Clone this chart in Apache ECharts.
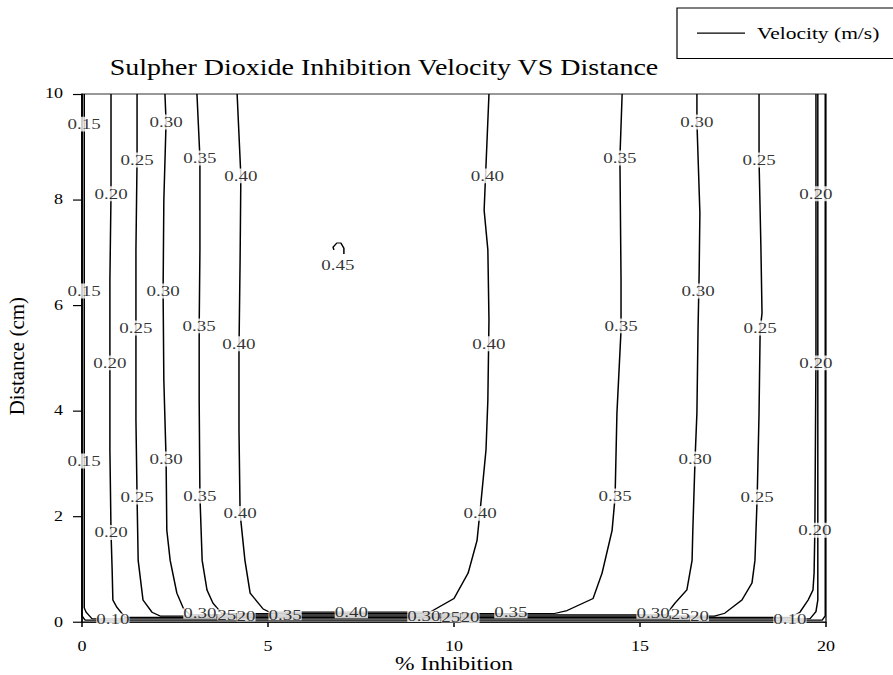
<!DOCTYPE html>
<html>
<head>
<meta charset="utf-8">
<script src="https://cdn.jsdelivr.net/npm/echarts@6/dist/echarts.min.js"></script>
<style>
  html, body { margin: 0; padding: 0; overflow: hidden; background: #fff; }
  #frame { width: 893px; height: 675px; overflow: hidden; position: relative; }
  #chart { width: 893px; transform-origin: 0 0; }
</style>
</head>
<body>
<div id="frame"><div id="chart"></div></div>
<script>
// Contour lines of velocity (m/s) over % inhibition (x) and distance in cm (y).
// Each path: [inhibition, distance] points along one contour level.
const levels = ['0.10', '0.15', '0.20', '0.25', '0.30', '0.35', '0.40', '0.45'];

const contour010 = [[0.0,10],[0.0,0.12],[0.08,0.04],[19.9,0.04],[19.98,0.12],[19.98,10]];
const contour015 = [[0.06,10],[0.06,6],[0.06,0.27],[0.11,0.19],[0.27,0.065],[19.57,0.065],[19.73,0.2],[19.78,0.42],[19.78,10]];
const contour020 = [[0.78,10],[0.78,8.11],[0.75,6.48],[0.75,4.91],[0.75,3.26],[0.78,1.70],[0.81,1.0],[0.83,0.42],[0.94,0.28],[1.16,0.09],
                    [19.03,0.09],[19.30,0.19],[19.52,0.42],[19.65,0.61],[19.68,0.93],[19.70,1.74],[19.73,4.96],[19.73,8.13],[19.73,10]];
const contour025 = [[1.48,10],[1.48,8.75],[1.45,7.05],[1.45,5.57],[1.45,3.83],[1.48,2.37],[1.51,1.17],[1.64,0.42],[1.88,0.19],[2.10,0.115],
                    [17.0,0.115],[17.28,0.17],[17.74,0.42],[18.01,0.74],[18.09,1.17],[18.15,2.37],[18.20,3.96],[18.23,5.53],[18.28,5.85],[18.25,7.10],[18.20,8.75],[18.20,10]];
const contour030 = [[2.23,10],[2.26,9.47],[2.20,7.99],[2.18,6.27],[2.20,4.58],[2.26,3.09],[2.28,1.74],[2.37,1.17],[2.55,0.55],[2.72,0.27],[2.90,0.14],
                    [15.7,0.14],[15.94,0.36],[16.26,0.61],[16.40,1.17],[16.42,1.74],[16.48,3.09],[16.53,3.96],[16.56,5.53],[16.59,6.61],[16.61,7.75],[16.53,9.47],[16.53,10]];
const contour035 = [[3.09,10],[3.17,8.79],[3.17,7.05],[3.15,5.61],[3.15,4.20],[3.17,2.39],[3.23,1.17],[3.36,0.61],[3.52,0.36],[3.76,0.165],
                    [12.7,0.165],[13.04,0.22],[13.74,0.45],[13.98,0.93],[14.25,1.74],[14.33,2.37],[14.38,3.96],[14.49,5.53],[14.49,6.48],[14.46,8.79],[14.52,10]];
const contour040 = [[4.17,10],[4.27,8.45],[4.25,6.86],[4.22,5.15],[4.22,3.64],[4.25,2.06],[4.38,1.17],[4.52,0.55],[4.87,0.25],[5.05,0.19],
                    [9.35,0.19],[9.68,0.32],[10.0,0.45],[10.38,0.93],[10.62,1.55],[10.73,2.31],[10.86,3.26],[10.91,4.2],[10.94,5.72],[10.91,7.05],[10.81,7.80],[10.94,10]];
const contour045 = [[6.77,7.05],[6.75,7.10],[6.85,7.18],[6.96,7.18],[7.04,7.08],[7.04,6.97]];

const contourPaths = [contour010, contour015, contour020, contour025, contour030, contour035, contour040, contour045];

// Level labels placed along the contours: [inhibition, distance, text]
const lineLabels = [
  [0.06,9.43,'0.15'],[0.06,6.27,'0.15'],[0.06,3.05,'0.15'],
  [0.78,8.11,'0.20'],[0.75,4.91,'0.20'],[0.78,1.70,'0.20'],
  [1.48,8.75,'0.25'],[1.45,5.57,'0.25'],[1.48,2.37,'0.25'],
  [2.26,9.47,'0.30'],[2.18,6.27,'0.30'],[2.26,3.09,'0.30'],
  [3.17,8.79,'0.35'],[3.15,5.61,'0.35'],[3.17,2.39,'0.35'],
  [4.27,8.45,'0.40'],[4.22,5.27,'0.40'],[4.25,2.06,'0.40'],
  [10.90,8.45,'0.40'],[10.94,5.27,'0.40'],[10.70,2.06,'0.40'],
  [14.46,8.79,'0.35'],[14.49,5.61,'0.35'],[14.33,2.39,'0.35'],
  [16.53,9.47,'0.30'],[16.56,6.27,'0.30'],[16.48,3.09,'0.30'],
  [18.20,8.75,'0.25'],[18.23,5.57,'0.25'],[18.15,2.37,'0.25'],
  [19.73,8.11,'0.20'],[19.73,4.91,'0.20'],[19.70,1.74,'0.20'],
  [6.88,6.76,'0.45']
];
// Labels along the dense band near distance 0; crowded levels show in short form
const bandLabels = [
  [0.83,0.06,'0.10'],[19.03,0.06,'0.10'],
  [3.17,0.17,'0.30'],[3.89,0.14,'25'],[4.41,0.12,'20'],
  [9.19,0.11,'0.30'],[9.91,0.10,'25'],[10.43,0.09,'20'],
  [15.35,0.17,'0.30'],[16.08,0.15,'25'],[16.60,0.12,'20'],
  [5.46,0.14,'0.35'],[11.53,0.18,'0.35'],
  [7.24,0.18,'0.40']
];
const bandLabelsBelow = [[6.80,-0.04,'0.15'],[12.89,-0.01,'0.15']];

const xTicks = { min: 0, max: 20, step: 5 };
const yTicks = { min: 0, max: 10, step: 2 };

// The drawing is laid out taller and squeezed vertically to the page height.
const SY = 1.27;
const PAGE_W = 893, PAGE_H = 675;
const CH = Math.round(PAGE_H * SY);
const chartDom = document.getElementById('chart');
chartDom.style.height = CH + 'px';
chartDom.style.transform = 'scaleY(' + (PAGE_H / CH) + ')';

const FONT = 'Liberation Serif, serif';
const chart = echarts.init(chartDom, null, { renderer: 'svg', width: PAGE_W, height: CH });

const lineSeries = contourPaths.map((path) => ({
  name: 'Velocity (m/s)',
  type: 'line',
  data: path,
  symbol: 'none',
  showSymbol: false,
  lineStyle: { color: '#000', width: 1.5 },
  itemStyle: { color: '#000' },
  z: 2,
  silent: true,
  animation: false
}));

function labelSeries(data, z, extra) {
  return {
    type: 'scatter',
    data: data,
    symbolSize: 0,
    z: z,
    silent: true,
    animation: false,
    label: Object.assign({
      show: true,
      position: 'inside',
      formatter: p => p.data[2],
      fontFamily: FONT,
      fontSize: 19,
      color: '#000',
      backgroundColor: '#fff',
      padding: [0, 1]
    }, extra || {}),
    labelLayout: { hideOverlap: false }
  };
}

chart.setOption({
  animation: false,
  backgroundColor: '#fff',
  textStyle: { fontFamily: FONT, color: '#000' },
  title: {
    text: 'Sulpher Dioxide Inhibition Velocity VS Distance',
    left: 379,
    textAlign: 'center',
    top: 67,
    textStyle: { fontFamily: FONT, fontSize: 28, fontWeight: 'normal', color: '#000' }
  },
  legend: {
    data: ['Velocity (m/s)'],
    left: 677,
    top: 8 * SY,
    orient: 'horizontal',
    icon: 'rect',
    itemWidth: 48,
    itemHeight: 1.5,
    padding: [20, 40, 20, 20],
    borderColor: '#000',
    borderWidth: 1.2,
    textStyle: { fontFamily: FONT, fontSize: 21.5, color: '#000', padding: [0, 0, 0, 7], lineHeight: 24 }
  },
  grid: {
    left: 82,
    right: PAGE_W - 826,
    top: 94 * SY,
    bottom: CH - 622 * SY,
    show: true,
    borderColor: '#333',
    borderWidth: 1.5,
    containLabel: false,
    outerBoundsMode: 'none'
  },
  graphic: [{
    type: 'text',
    x: 17,
    y: 356 * SY,
    rotation: Math.PI / 2,
    scaleX: SY,
    silent: true,
    style: {
      text: 'Distance (cm)',
      font: '21px Liberation Serif, serif',
      fill: '#000',
      align: 'center',
      verticalAlign: 'middle'
    }
  }, {
    type: 'text',
    x: 454,
    y: 664 * SY,
    silent: true,
    style: {
      text: '% Inhibition',
      font: '23.5px Liberation Serif, serif',
      fill: '#000',
      align: 'center',
      verticalAlign: 'middle'
    }
  }],
  xAxis: {
    type: 'value',
    min: xTicks.min, max: xTicks.max, interval: xTicks.step,
    axisLine: { show: true, onZero: false, lineStyle: { color: '#000', width: 1.5 } },
    axisTick: { show: true, length: 6, lineStyle: { color: '#000', width: 1.5 } },
    axisLabel: { margin: 22, fontFamily: FONT, fontSize: 18, color: '#000' },
    splitLine: { show: false }
  },
  yAxis: {
    type: 'value',
    min: yTicks.min, max: yTicks.max, interval: yTicks.step,
    axisLine: { show: true, onZero: false, lineStyle: { color: '#000', width: 1.5 } },
    axisTick: { show: true, length: 9, lineStyle: { color: '#000', width: 1.5 } },
    axisLabel: { margin: 19, fontFamily: FONT, fontSize: 18, color: '#000' },
    splitLine: { show: false }
  },
  series: [
    labelSeries(bandLabelsBelow, 1, { backgroundColor: 'transparent', lineHeight: 14, padding: 0 }),
    ...lineSeries,
    labelSeries(lineLabels, 5),
    labelSeries(bandLabels, 5, { lineHeight: 14, padding: 0 })
  ]
});
</script>
</body>
</html>
